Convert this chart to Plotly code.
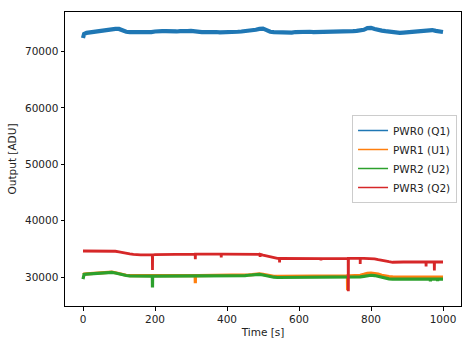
import plotly.graph_objects as go

# time grid (s)
time_s = [0, 3] + list(range(10, 1001, 10))

# values (ADU), one per time_s entry
pwr0 = [72400, 73100, 73300, 73400, 73500, 73550, 73600, 73650, 73750, 73850, 74000,
        74000, 73750, 73500, 73450, 73450, 73450, 73400, 73350, 73350, 73450,
        73550, 73500, 73600, 73600, 73550, 73550, 73550, 73600, 73550, 73600,
        73650, 73550, 73500, 73450, 73450, 73500, 73450, 73450, 73400, 73400,
        73350, 73350, 73450, 73500, 73550, 73600, 73650, 73750, 73850, 74000,
        74050, 73800, 73500, 73450, 73400, 73350, 73350, 73300, 73350, 73450,
        73500, 73550, 73550, 73500, 73450, 73450, 73500, 73550, 73550, 73550,
        73600, 73550, 73550, 73600, 73550, 73600, 73650, 73750, 73850, 74150,
        74200, 74000, 73800, 73700, 73600, 73500, 73450, 73350, 73300, 73350,
        73400, 73500, 73550, 73600, 73600, 73700, 73750, 73800, 73650, 73500,
        73450]
pwr1 = [30450, 30550, 30600, 30650, 30700, 30750, 30800, 30850, 30900, 30900, 30800,
        30650, 30450, 30350, 30300, 30300, 30300, 30300, 30250, 30250, 30250,
        30250, 30250, 30250, 30250, 30250, 30250, 30250, 30300, 30300, 30300,
        30300, 30300, 30300, 30300, 30300, 30300, 30350, 30350, 30350, 30350,
        30350, 30350, 30350, 30350, 30350, 30350, 30400, 30450, 30550, 30600,
        30500, 30350, 30250, 30150, 30150, 30150, 30200, 30250, 30250, 30250,
        30250, 30250, 30250, 30250, 30250, 30250, 30250, 30250, 30250, 30250,
        30250, 30250, 30250, 30250, 30250, 30250, 30300, 30350, 30500, 30700,
        30750, 30700, 30550, 30350, 30200, 30100, 30050, 30000, 30000, 30000,
        30000, 30000, 30000, 30000, 30000, 30000, 30000, 30000, 30000, 30000,
        30000]
pwr2 = [29650, 30500, 30550, 30600, 30650, 30700, 30750, 30800, 30850, 30850, 30750,
        30600, 30400, 30300, 30250, 30250, 30250, 30250, 30200, 30200, 30200,
        30200, 30200, 30200, 30200, 30200, 30200, 30200, 30250, 30250, 30250,
        30250, 30250, 30250, 30250, 30250, 30250, 30300, 30300, 30300, 30300,
        30300, 30300, 30300, 30300, 30300, 30300, 30350, 30400, 30450, 30500,
        30400, 30250, 30100, 30000, 29950, 29950, 29950, 29950, 29950, 29950,
        29950, 29950, 29950, 29950, 29950, 29950, 30000, 30000, 30000, 30000,
        30000, 30000, 30000, 30000, 30000, 30000, 30000, 30050, 30150, 30300,
        30350, 30300, 30150, 29950, 29800, 29700, 29650, 29650, 29650, 29650,
        29650, 29650, 29650, 29650, 29650, 29650, 29650, 29650, 29650, 29650,
        29650]
pwr3 = [34650, 34650, 34650, 34650, 34650, 34650, 34650, 34650, 34650, 34650, 34600,
        34500, 34350, 34250, 34150, 34050, 33950, 33950, 33950, 33950, 33950,
        34000, 34000, 34000, 34000, 34000, 34000, 34000, 34050, 34050, 34100,
        34100, 34100, 34100, 34100, 34100, 34100, 34100, 34100, 34100, 34100,
        34100, 34100, 34100, 34100, 34100, 34100, 34100, 34100, 34100, 34050,
        33900, 33750, 33550, 33400, 33350, 33350, 33350, 33350, 33350, 33300,
        33300, 33300, 33300, 33300, 33300, 33300, 33300, 33300, 33300, 33300,
        33350, 33350, 33350, 33350, 33350, 33350, 33350, 33350, 33350, 33350,
        33300, 33250, 33100, 32950, 32850, 32750, 32650, 32700, 32700, 32700,
        32700, 32700, 32700, 32700, 32700, 32700, 32700, 32700, 32700, 32700,
        32700]

# short downward glitches: (time, value)
spikes0 = []
spikes1 = [(312, 28950), (735, 27700)]
spikes2 = [(193, 28200), (965, 29250), (985, 29300)]
spikes3 = [(193, 31300), (312, 33200), (384, 33500), (492, 33600), (546, 32600),
           (661, 33000), (737, 27500), (770, 32350), (953, 31900), (976, 31200)]

names = ["PWR0 (Q1)", "PWR1 (U1)", "PWR2 (U2)", "PWR3 (Q2)"]
colors = ["#1f77b4", "#ff7f0e", "#2ca02c", "#d62728"]
widths = [4.2, 3.2, 3.2, 2.8]


def with_spikes(t, v, spikes):
    pts = list(zip(t, v))
    for ts, vs in spikes:
        i = min(range(len(t)), key=lambda k: abs(t[k] - ts))
        base = v[i]
        pts += [(ts - 0.4, base), (ts, vs), (ts + 0.4, base)]
    pts.sort(key=lambda p: p[0])
    return [p[0] for p in pts], [p[1] for p in pts]


fig = go.Figure()
for i, (vals, sp) in enumerate(zip([pwr0, pwr1, pwr2, pwr3],
                                   [spikes0, spikes1, spikes2, spikes3])):
    x, y = with_spikes(time_s, vals, sp)
    fig.add_trace(go.Scatter(x=x, y=y, mode="lines", name=names[i],
                             legendgroup=names[i], showlegend=False,
                             line=dict(color=colors[i], width=widths[i])))
for i in range(4):
    fig.add_trace(go.Scatter(x=[None], y=[None], mode="lines", name=names[i],
                             legendgroup=names[i],
                             line=dict(color=colors[i], width=1.5)))

axis_common = dict(showline=True, mirror=True, linecolor="black", linewidth=1,
                   ticks="outside", ticklen=3.5, tickwidth=1, tickcolor="black",
                   showgrid=False, zeroline=False,
                   tickfont=dict(family="DejaVu Sans", size=10.5, color="#222222"))

fig.update_layout(
    width=473, height=347,
    margin=dict(l=65, r=11, t=11, b=39),
    paper_bgcolor="white", plot_bgcolor="white",
    font=dict(family="DejaVu Sans", size=10.5, color="#222222"),
    xaxis=dict(range=[-50, 1050], tickvals=[0, 200, 400, 600, 800, 1000],
               title=dict(text="Time [s]", font=dict(size=10.5), standoff=4),
               **axis_common),
    yaxis=dict(range=[24900, 77000], tickvals=[30000, 40000, 50000, 60000, 70000],
               tickformat="d",
               title=dict(text="Output [ADU]", font=dict(size=10.5), standoff=6),
               **axis_common),
    legend=dict(x=0.99, xanchor="right", y=0.5, yanchor="middle",
                bgcolor="rgba(255,255,255,0.8)", bordercolor="#cccccc",
                borderwidth=1, font=dict(size=10.5), tracegroupgap=0),
)

fig.write_html("out.html")
